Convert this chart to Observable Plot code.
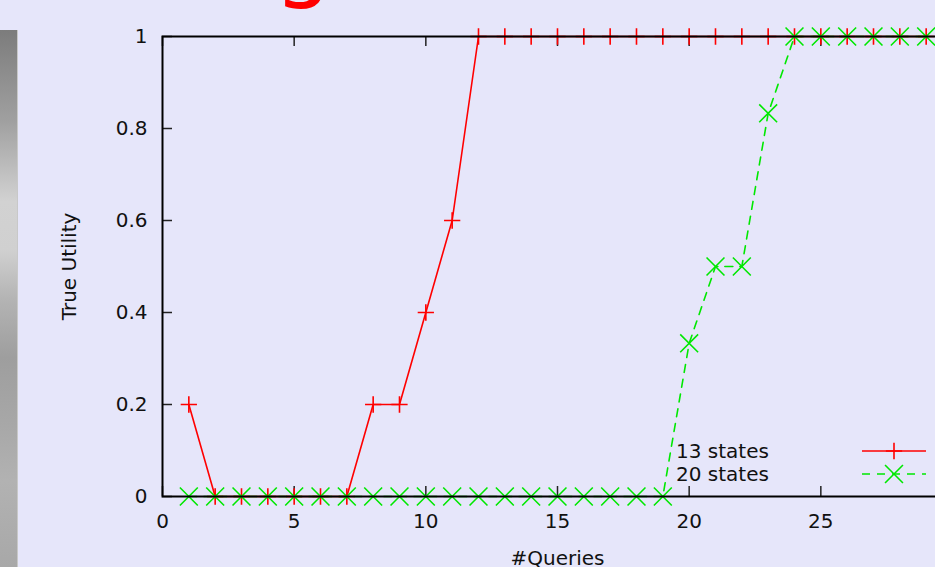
<!DOCTYPE html>
<html><head><meta charset="utf-8">
<script src="https://cdn.jsdelivr.net/npm/d3@7"></script>
<script src="https://cdn.jsdelivr.net/npm/@observablehq/plot@0.6"></script>
<style>
html,body{margin:0;padding:0;background:#e6e6fa;overflow:hidden;width:935px;height:567px;}
#wrap{position:relative;width:935px;height:567px;overflow:hidden;background:#e6e6fa;}
#strip{position:absolute;left:0;top:30px;width:17px;height:537px;
  background:linear-gradient(to bottom,#7c7c7c 0%,#a0a0a0 17%,#d2d2d2 32%,#d0d0d0 41%,#b4b4b4 50%,#9e9e9e 61%,#a8a8a8 74%,#b2b2b2 84%,#a8a8a8 100%);
  border-right:1px solid #c8c8c8;}
#chart{position:absolute;left:0;top:0;width:1000px;height:567px;}
#chart svg{max-width:none !important;width:1000px !important;height:567px !important;}
#overlay{position:absolute;left:0;top:0;pointer-events:none;}
</style></head><body>
<div id="wrap"><div id="strip"></div><div id="chart"></div><svg id="overlay" width="935" height="567"></svg></div>
<script>
const titleText = "g";
const xLabel = "#Queries";
const yLabel = "True Utility";
const seriesNames = ["13 states", "20 states"];
const queries = [1,2,3,4,5,6,7,8,9,10,11,12,13,14,15,16,17,18,19,20,21,22,23,24,25,26,27,28,29];
const utility13 = [0.2,0,0,0,0,0,0,0.2,0.2,0.4,0.6,1,1,1,1,1,1,1,1,1,1,1,1,1,1,1,1,1,1];
const utility20 = [0,0,0,0,0,0,0,0,0,0,0,0,0,0,0,0,0,0,0,0.333,0.5,0.5,0.833,1,1,1,1,1,1];
const xTicks = [0,5,10,15,20,25];
const yTicks = [0,0.2,0.4,0.6,0.8,1];

const red = "#ff0000", green = "#00e800";
const W = 1000, H = 567, mL = 162, mR = 48, mT = 36, mB = 71;
const plotW = W - mL - mR, plotH = H - mT - mB;
const plusR = 5.3, timesR = 8.2;

const s13 = queries.map((q,i) => ({q, u: utility13[i]}));
const s20 = queries.map((q,i) => ({q, u: utility20[i]}));

const chart = Plot.plot({
  width: W, height: H,
  marginLeft: mL, marginRight: mR, marginTop: mT, marginBottom: mB,
  style: {background: "transparent", fontFamily: "'DejaVu Sans', sans-serif", fontSize: "20px", color: "#111", maxWidth: "none"},
  x: {domain: [0, 30]},
  y: {domain: [0, 1]},
  marks: [
    Plot.axisX(xTicks, {tickSize: 0, tickPadding: 17, fontSize: 20, tickFormat: d => String(d), label: null}),
    Plot.axisY(yTicks, {tickSize: 0, tickPadding: 15, fontSize: 20, tickFormat: d3.format("~g"), label: null}),
    Plot.tickX(xTicks, {x: d => d, insetTop: plotH - 10, stroke: "#222", strokeWidth: 1.5}),
    Plot.tickX(xTicks, {x: d => d, insetBottom: plotH - 10, stroke: "#222", strokeWidth: 1.5}),
    Plot.tickY(yTicks, {y: d => d, insetRight: plotW - 10, stroke: "#222", strokeWidth: 1.5}),
    Plot.line(s13, {x: "q", y: "u", stroke: red, strokeWidth: 1.6}),
    Plot.dot(s13, {x: "q", y: "u", symbol: "plus", r: plusR, stroke: red, fill: "none", strokeWidth: 1.6}),
    Plot.line(s20, {x: "q", y: "u", stroke: green, strokeWidth: 1.6, strokeDasharray: "8,7"}),
    Plot.dot(s20, {x: "q", y: "u", symbol: "times", r: timesR, stroke: green, fill: "none", strokeWidth: 1.6}),
    Plot.frame({stroke: "#000", strokeWidth: 2}),
    Plot.text([yLabel], {frameAnchor: "left", textAnchor: "middle", rotate: -90, dx: -93, dy: 0, fontSize: 20, fill: "#111"}),
    Plot.text([xLabel], {frameAnchor: "bottom", dy: 68, fontSize: 20, fill: "#111"})
  ]
});
document.getElementById("chart").appendChild(chart);

// overlay: cropped title and key
const ov = d3.select("#overlay");
ov.append("text").attr("x", 274).attr("y", -10).attr("fill", red)
  .style("font-family", "'DejaVu Sans', sans-serif").style("font-size", "92px").text(titleText);

const key = [
  {name: seriesNames[0], color: red, dash: null, sym: d3.symbolPlus, r: plusR, y: 451},
  {name: seriesNames[1], color: green, dash: "8,7", sym: d3.symbolTimes, r: timesR, y: 474}
];
key.forEach(k => {
  ov.append("text").attr("x", 676).attr("y", k.y).attr("dy", "0.36em").attr("fill", "#111")
    .style("font-family", "'DejaVu Sans', sans-serif").style("font-size", "20px").text(k.name);
  ov.append("line").attr("x1", 862).attr("x2", 926).attr("y1", k.y).attr("y2", k.y)
    .attr("stroke", k.color).attr("stroke-width", 1.6).attr("stroke-dasharray", k.dash);
  ov.append("path").attr("transform", `translate(894,${k.y})`)
    .attr("d", d3.symbol(k.sym, Math.PI * k.r * k.r)())
    .attr("stroke", k.color).attr("fill", "none").attr("stroke-width", 1.6);
});
</script>
</body></html>
